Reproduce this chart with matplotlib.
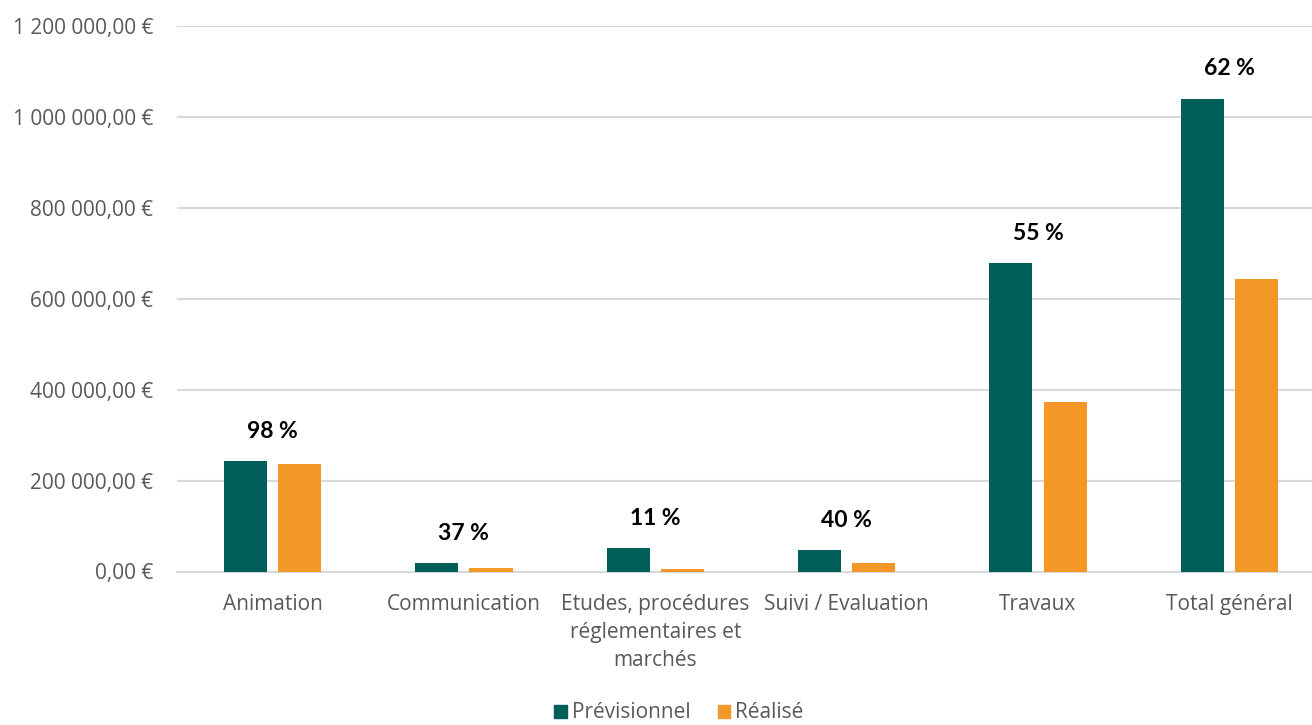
import matplotlib
matplotlib.use("Agg")
import matplotlib.pyplot as plt
import numpy as np
from matplotlib.ticker import FuncFormatter
from matplotlib.patches import Patch

categories = ["Animation", "Communication", "Etudes, procédures\nréglementaires et\nmarchés",
              "Suivi / Evaluation", "Travaux", "Total général"]
previsionnel = [242500, 18300, 50600, 46900, 677900, 1040000]
realise = [237400, 6800, 5600, 18800, 372500, 644000]
pct_labels = ["98 %", "37 %", "11 %", "40 %", "55 %", "62 %"]
yticks = [0, 200000, 400000, 600000, 800000, 1000000, 1200000]

C_PREV = "#005F5A"
C_REAL = "#F39727"
TXT = "#595959"
FONT = ["Open Sans", "DejaVu Sans"]
plt.rcParams['font.family'] = FONT

W, H = 1312, 725
fig = plt.figure(figsize=(W / 100, H / 100), dpi=100)
left = 176.8 / W
right = 1325.0 / W
bottom = (H - 571.5) / H
top = (H - 26) / H
ax = fig.add_axes([left, bottom, right - left, top - bottom])

x = np.arange(len(categories))
bw = 0.225
off = 0.142
ax.bar(x - off, previsionnel, bw, color=C_PREV, label="Prévisionnel", zorder=3)
ax.bar(x + off, realise, bw, color=C_REAL, label="Réalisé", zorder=3)

ax.set_xlim(-0.5, len(categories) - 0.5)
ax.set_ylim(0, 1200000)
ax.set_yticks(yticks)

def fmt(v, pos):
    s = f"{v:,.2f}".replace(",", " ").replace(".", ",")
    return s + " €"

ax.yaxis.set_major_formatter(FuncFormatter(fmt))
ax.grid(axis="y", color="#D9D9D9", linewidth=1.5, zorder=0)
ax.set_axisbelow(True)
for s in ["top", "right", "left"]:
    ax.spines[s].set_visible(False)
ax.spines["bottom"].set_color("#D9D9D9")
ax.spines["bottom"].set_linewidth(1.5)
ax.tick_params(axis="y", length=0, pad=17, labelsize=15, labelcolor=TXT)
ax.tick_params(axis="x", length=0, pad=16, labelsize=15, labelcolor=TXT)
ax.set_xticks(x)
ax.set_xticklabels(categories, linespacing=1.45)

for i, lab in enumerate(pct_labels):
    m = max(previsionnel[i], realise[i])
    ax.annotate(lab, (x[i], m), xytext=(0, 14), textcoords="offset points",
                ha="center", va="bottom", fontsize=16.5, fontweight="bold", color="black",
                family=["Lato", "DejaVu Sans"])

handles = [Patch(color=C_PREV, label="Prévisionnel"), Patch(color=C_REAL, label="Réalisé")]
fig.legend(handles=handles, loc="center", bbox_to_anchor=(679 / W, 1 - 713 / H),
           ncol=2, frameon=False, fontsize=15, handlelength=0.6, handleheight=0.6,
           handletextpad=0.25, columnspacing=1.3, labelcolor=TXT)

fig.savefig("out.png", dpi=100)
